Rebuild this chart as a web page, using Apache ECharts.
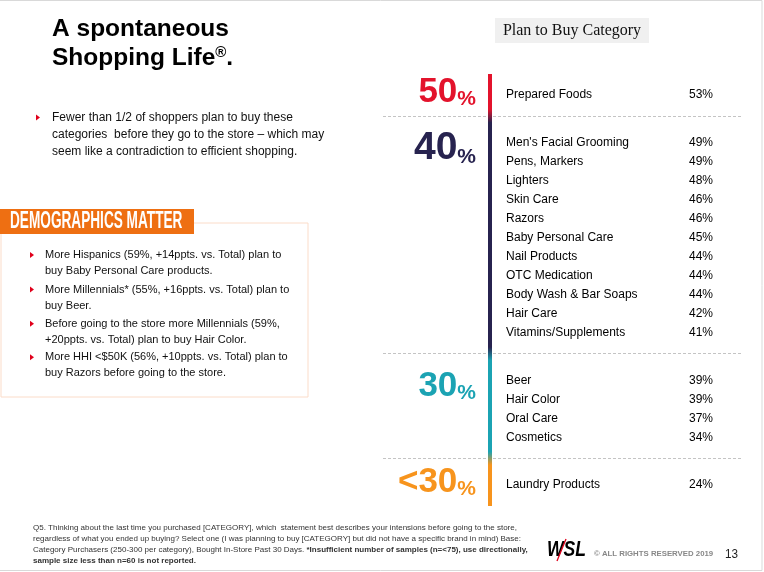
<!DOCTYPE html>
<html>
<head>
<meta charset="utf-8">
<script src="https://cdn.jsdelivr.net/npm/echarts@6/dist/echarts.min.js"></script>
<style>
html,body{margin:0;padding:0;background:#fff;}
#chart{width:764px;height:572px;}
</style>
</head>
<body>
<div id="chart"></div>
<script>
// ---------------- DATA ----------------
const categories = ['Prepared Foods', "Men's Facial Grooming", 'Pens, Markers', 'Lighters', 'Skin Care', 'Razors',
  'Baby Personal Care', 'Nail Products', 'OTC Medication', 'Body Wash & Bar Soaps', 'Hair Care',
  'Vitamins/Supplements', 'Beer', 'Hair Color', 'Oral Care', 'Cosmetics', 'Laundry Products'];
const planToBuy = [53, 49, 49, 48, 46, 46, 45, 44, 44, 44, 42, 41, 39, 39, 37, 34, 24];
const groupLabels = ['50', '40', '30', '<30'];
const groupSizes = [1, 11, 4, 1];

// ---------------- STYLE / LAYOUT ----------------
const F = "'Liberation Sans', Arial, Helvetica, sans-serif";
const groupColors = ['#e3132c', '#27234f', '#1ba3b3', '#f7941d'];
const groupDigitSize = [35, 39, 35, 35];
const COL = { label: 93, bar: 107, name: 123, value: 330 }; // x-axis units (grid column offsets)
const GAP = 1.5, EDGE = 1.1;

// derive row positions from group structure
const rowPos = [], groupFirst = [], groupLast = [];
let p = 0;
groupSizes.forEach(n => {
  groupFirst.push(p);
  for (let k = 0; k < n; k++) { rowPos.push(p); p++; }
  groupLast.push(p - 1);
  p += GAP;
});
const dividers = groupLast.slice(0, -1).map(v => v + EDGE);
const barTop = rowPos[0] - EDGE, barBottom = rowPos[rowPos.length - 1] + EDGE;
const labelPos = groupFirst.map((f, g) => f + (groupSizes[g] > 1 ? 0.3 : -0.15));

const chart = echarts.init(document.getElementById('chart'), null, { renderer: 'canvas' });

function tri(x, y, c) {
  return { type: 'polygon', shape: { points: [[x, y - 3], [x + 4, y], [x, y + 3]] }, style: { fill: c || '#e0001b' }, silent: true };
}
function txt(x, y, text, o) {
  return Object.assign({ type: 'text', x: x, y: y, silent: true,
    style: Object.assign({ text: text, fontFamily: F, fontSize: 12, fill: '#111', align: 'left', verticalAlign: 'middle' }, (o && o.style) || {}) },
    (o && o.el) || {});
}

const graphics = [
  { type: 'rect', shape: { x: -2, y: 0.5, width: 764, height: 570 }, style: { fill: 'none', stroke: '#d9d9d9', lineWidth: 1 }, silent: true },
  // title
  txt(52, 29, 'A spontaneous', { style: { fontSize: 24.5, fontWeight: 'bold', fill: '#000' } }),
  txt(52, 58, '{a|Shopping Life}{s|®}{a|.}', { style: { fontSize: 24.5, fontWeight: 'bold', fill: '#000',
    rich: { a: { fontSize: 24.5, fontWeight: 'bold', fontFamily: F, fill: '#000' },
            s: { fontSize: 15, fontWeight: 'bold', fontFamily: F, fill: '#000', verticalAlign: 'top' } } } }),
  // first bullet
  tri(36, 117.5),
  txt(52, 109, 'Fewer than 1/2 of shoppers plan to buy these\ncategories  before they go to the store \u2013 which may\nseem like a contradiction to efficient shopping.',
    { style: { fontSize: 12, lineHeight: 17, verticalAlign: 'top', fill: '#111' } }),
  // demographics box
  { type: 'rect', shape: { x: 1, y: 223, width: 307, height: 174 }, style: { fill: '#fff', stroke: '#fbdcc9', lineWidth: 1 }, silent: true },
  { type: 'rect', shape: { x: 0, y: 209, width: 194, height: 25 }, style: { fill: '#ee6f12' }, silent: true },
  txt(10, 222, 'DEMOGRAPHICS MATTER', { style: { fontSize: 23.5, fontWeight: 'bold', fill: '#fff' }, el: { scaleX: 0.58 } }),
  tri(30, 255), tri(30, 289.5), tri(30, 323.8), tri(30, 357.2),
  txt(45, 247, 'More Hispanics (59%, +14ppts. vs. Total) plan to\nbuy Baby Personal Care products.', { style: { fontSize: 11, lineHeight: 16, verticalAlign: 'top' } }),
  txt(45, 281.5, 'More Millennials* (55%, +16ppts. vs. Total) plan to\nbuy Beer.', { style: { fontSize: 11, lineHeight: 16, verticalAlign: 'top' } }),
  txt(45, 315.8, 'Before going to the store more Millennials (59%,\n+20ppts. vs. Total) plan to buy Hair Color.', { style: { fontSize: 11, lineHeight: 16, verticalAlign: 'top' } }),
  txt(45, 349.2, 'More HHI <$50K (56%, +10ppts. vs. Total) plan to\nbuy Razors before going to the store.', { style: { fontSize: 11, lineHeight: 16, verticalAlign: 'top' } }),
  // header box
  { type: 'rect', shape: { x: 495, y: 18, width: 154, height: 25 }, style: { fill: '#f0f0f0' }, silent: true },
  txt(572, 31, 'Plan to Buy Category', { style: { fontSize: 16, fontFamily: "'Liberation Serif', 'Times New Roman', serif", fill: '#111', align: 'center' } }),
  // footer
  txt(33, 522, 'Q5. Thinking about the last time you purchased [CATEGORY], which  statement best describes your intensions before going to the store,\nregardless of what you ended up buying? Select one (I was planning to buy [CATEGORY] but did not have a specific brand in mind) Base:\nCategory Purchasers (250-300 per category), Bought In-Store Past 30 Days. {b|*Insufficient number of samples (n=<75), use directionally,}\n{b|sample size less than n=60 is not reported.}',
    { style: { fontSize: 8, lineHeight: 11, verticalAlign: 'top', fill: '#333',
      rich: { b: { fontSize: 8, fontWeight: 'bold', fontFamily: F, fill: '#333', lineHeight: 11 } } } }),
  // logo
  txt(547, 550, 'WSL', { style: { fontSize: 22, fontWeight: 'bold', fontStyle: 'italic', fill: '#000' }, el: { scaleX: 0.8 } }),
  { type: 'line', shape: { x1: 557, y1: 561, x2: 566, y2: 539 }, style: { stroke: '#e0001b', lineWidth: 1.3 }, silent: true },
  txt(594, 554, '\u00A9 ALL RIGHTS RESERVED 2019', { style: { fontSize: 6.5, fontWeight: 'bold', fill: '#888' }, el: { scaleX: 1.2 } }),
  txt(725, 554, '13', { style: { fontSize: 13, fill: '#222' }, el: { scaleX: 0.9 } })
];

function textSeries(name, xCol, fmt, align) {
  return {
    type: 'custom', name: name, z: 3, silent: true,
    data: rowPos.map((r, i) => [xCol, r, i]),
    renderItem: function (params, api) {
      const pt = api.coord([api.value(0), api.value(1)]);
      return { type: 'text', style: { text: fmt(params.dataIndex), x: pt[0], y: pt[1],
        align: align, verticalAlign: 'middle', fontFamily: F, fontSize: 12, fill: '#000' } };
    }
  };
}

const option = {
  animation: false,
  backgroundColor: '#fff',
  grid: { left: 383, right: 21, top: 76, height: 437.5 },
  xAxis: { type: 'value', min: 0, max: 360, show: false },
  yAxis: { type: 'value', min: -1, max: 22, inverse: true, show: false },
  graphic: { elements: graphics },
  series: [
    {
      type: 'custom', name: 'bar', z: 5, silent: true,
      data: [[COL.bar, barTop, barBottom]],
      renderItem: function (params, api) {
        const a = api.coord([api.value(0), api.value(1)]);
        const b = api.coord([api.value(0), api.value(2)]);
        const span = barBottom - barTop, h = 0.35 / span;
        const stops = [];
        groupColors.forEach((c, g) => {
          const s = g === 0 ? 0 : (dividers[g - 1] - barTop) / span + h;
          const e = g === groupColors.length - 1 ? 1 : (dividers[g] - barTop) / span - h;
          stops.push({ offset: s, color: c }, { offset: e, color: c });
        });
        return { type: 'rect', shape: { x: a[0] - 2, y: a[1], width: 4, height: b[1] - a[1] },
          style: { fill: { type: 'linear', x: 0, y: 0, x2: 0, y2: 1, colorStops: stops } } };
      }
    },
    {
      type: 'custom', name: 'groups', z: 4, silent: true,
      data: groupLabels.map((l, g) => [COL.label, labelPos[g]]),
      renderItem: function (params, api) {
        const g = params.dataIndex;
        const pt = api.coord([api.value(0), api.value(1)]);
        const c = groupColors[g], fs = groupDigitSize[g];
        return { type: 'text', style: {
          text: '{n|' + groupLabels[g] + '}{p|%}', x: pt[0], y: pt[1], align: 'right', verticalAlign: 'middle',
          rich: {
            n: { fontSize: fs, fontWeight: 'bold', fontFamily: F, fill: c, lineHeight: fs, verticalAlign: 'bottom' },
            p: { fontSize: 21, fontWeight: 'bold', fontFamily: F, fill: c, lineHeight: 25, verticalAlign: 'bottom' }
          } } };
      }
    },
    textSeries('names', COL.name, i => categories[i], 'left'),
    textSeries('values', COL.value, i => planToBuy[i] + '%', 'right'),
    {
      type: 'scatter', name: 'dividers', z: 1, silent: true, symbolSize: 0,
      itemStyle: { color: 'rgba(0,0,0,0)' },
      data: dividers.map(d => [0, d]),
      markLine: { silent: true, symbol: 'none', label: { show: false },
        lineStyle: { type: [3, 2], color: '#c4c4c4', width: 1 },
        emphasis: { disabled: true },
        data: dividers.map(d => ({ yAxis: d })) }
    }
  ]
};
chart.setOption(option);
</script>
</body>
</html>
